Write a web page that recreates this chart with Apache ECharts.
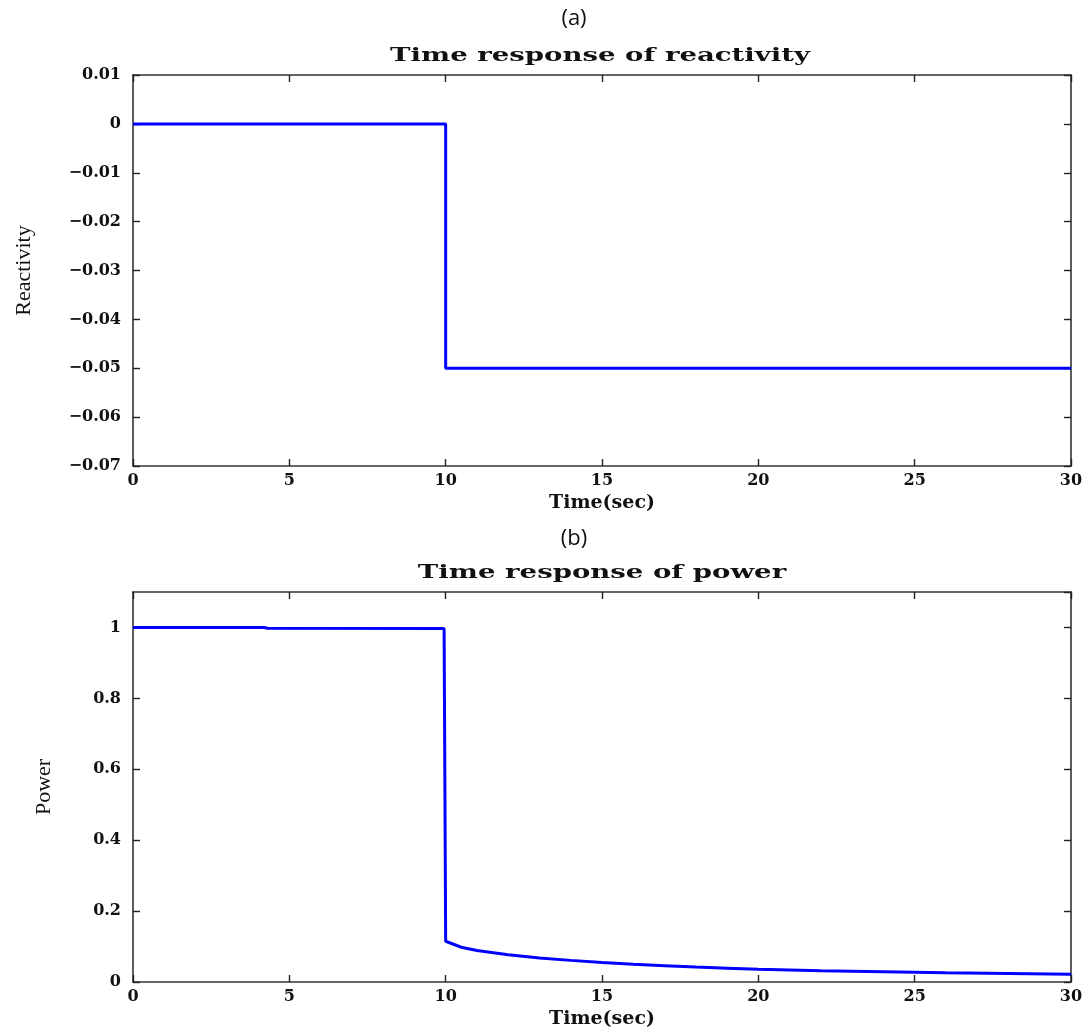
<!DOCTYPE html>
<html>
<head>
<meta charset="utf-8">
<script src="https://cdn.jsdelivr.net/npm/echarts@6/dist/echarts.min.js"></script>
<style>
  html, body { margin: 0; padding: 0; background: #fff; }
  #chart { width: 1087px; height: 1030px; }
</style>
</head>
<body>
<div id="chart"></div>
<script>
// Reactivity step input (time in seconds, reactivity)
const reactivityTime = [0, 10, 10, 30];
const reactivityValue = [0, 0, -0.05, -0.05];

// Normalised power response
const powerTime = [0, 4.2, 4.3, 9.95, 10, 10.5, 11, 12, 13, 14, 15, 16, 17, 18, 19, 20, 22, 24, 26, 28, 30];
const powerValue = [1.0, 1.0, 0.998, 0.997, 0.115, 0.098, 0.089, 0.077, 0.068, 0.061, 0.055, 0.050, 0.046, 0.042, 0.039, 0.036, 0.032, 0.029, 0.026, 0.024, 0.022];

// Tick settings
const timeTicks = { min: 0, max: 30, interval: 5 };
const reactivityTicks = { min: -0.07, max: 0.01, interval: 0.01 };
const powerTicks = { min: 0, max: 1.1, interval: 0.2 };

const panelTitles = ['Time response of reactivity', 'Time response of power'];
const panelTags = ['(a)', '(b)'];
const yNames = ['Reactivity', 'Power'];
const xName = 'Time(sec)';

const pairs = (xs, ys) => xs.map((x, i) => [x, ys[i]]);

const serifBold = { fontFamily: 'DejaVu Serif', fontWeight: 'bold', color: '#111' };
const axisLine = { show: true, onZero: false, lineStyle: { color: '#333', width: 1.6 } };
const tickIn = { show: true, inside: true, length: 7, lineStyle: { color: '#222', width: 1.4 } };

const grids = [
  { left: 133, top: 75, width: 938, height: 391 },
  { left: 133, top: 592, width: 938, height: 390 }
];

function fmtReact(v) {
  const r = Math.round(v * 100) / 100;
  if (r === 0) return '0';
  return (r < 0 ? '\u22120.0' : '0.0') + Math.abs(Math.round(r * 100));
}
function fmtPower(v) {
  const r = Math.round(v * 10) / 10;
  if (r === 0) return '0';
  if (r === 1) return '1';
  return r.toFixed(1);
}

const xAxes = [];
const yAxes = [];
[0, 1].forEach(g => {
  xAxes.push({
    type: 'value', gridIndex: g, position: 'bottom',
    min: timeTicks.min, max: timeTicks.max, interval: timeTicks.interval,
    name: xName, nameLocation: 'middle', nameGap: 28,
    nameTextStyle: Object.assign({ fontSize: 19 }, serifBold),
    axisLine: axisLine, axisTick: tickIn, splitLine: { show: false },
    axisLabel: Object.assign({ fontSize: 16, margin: 7 }, serifBold)
  });
  xAxes.push({
    type: 'value', gridIndex: g, position: 'top',
    min: timeTicks.min, max: timeTicks.max, interval: timeTicks.interval,
    axisLine: axisLine, axisTick: tickIn, splitLine: { show: false },
    axisLabel: { show: false }
  });
});

const yCfg = [reactivityTicks, powerTicks];
const yFmt = [fmtReact, fmtPower];
const yGap = [98, 78];
[0, 1].forEach(g => {
  yAxes.push({
    type: 'value', gridIndex: g, position: 'left',
    min: yCfg[g].min, max: yCfg[g].max, interval: yCfg[g].interval,
    name: yNames[g], nameLocation: 'middle', nameGap: yGap[g],
    nameTextStyle: { fontFamily: 'Liberation Serif', fontSize: 22, color: '#111' },
    axisLine: axisLine, axisTick: tickIn, splitLine: { show: false },
    axisLabel: Object.assign({ fontSize: 16, margin: 12, formatter: yFmt[g], showMaxLabel: g === 0 }, serifBold)
  });
  yAxes.push({
    type: 'value', gridIndex: g, position: 'right',
    min: yCfg[g].min, max: yCfg[g].max, interval: yCfg[g].interval,
    axisLine: axisLine, axisTick: tickIn, splitLine: { show: false },
    axisLabel: { show: false }
  });
});

// Panel headings: wide bold serif titles and sans-serif panel tags
function heading(text, x, y, font, sx) {
  return {
    type: 'text', x: x, y: y, scaleX: sx, silent: true,
    style: { text: text, font: font, fill: '#111', textAlign: 'center', textVerticalAlign: 'middle' }
  };
}

const option = {
  backgroundColor: '#fff',
  animation: false,
  graphic: [
    heading(panelTags[0], 574, 19, '22px "Open Sans"', 1),
    heading(panelTitles[0], 600, 56, 'bold 19px "DejaVu Serif"', 1.45),
    heading(panelTags[1], 574, 539, '22px "Open Sans"', 1),
    heading(panelTitles[1], 602, 573, 'bold 19px "DejaVu Serif"', 1.45)
  ],
  grid: grids,
  xAxis: xAxes,
  yAxis: yAxes,
  series: [
    { type: 'line', xAxisIndex: 0, yAxisIndex: 0, data: pairs(reactivityTime, reactivityValue),
      showSymbol: false, symbol: 'none', lineStyle: { color: '#0000ff', width: 3 } },
    { type: 'line', xAxisIndex: 2, yAxisIndex: 2, data: pairs(powerTime, powerValue),
      showSymbol: false, symbol: 'none', lineStyle: { color: '#0000ff', width: 3 } }
  ]
};

echarts.init(document.getElementById('chart')).setOption(option);
</script>
</body>
</html>
